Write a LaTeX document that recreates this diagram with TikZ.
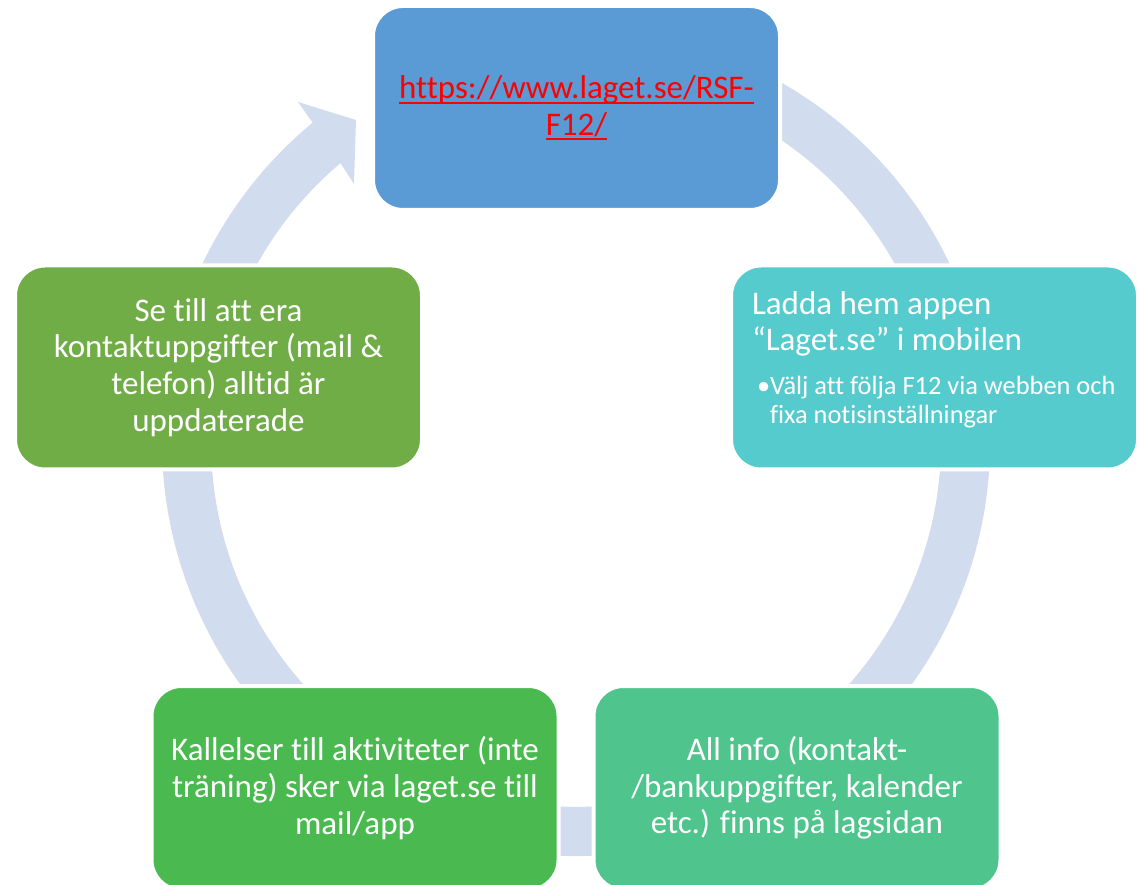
\documentclass[tikz,border=0pt]{standalone}
\usepackage{fontspec}
\setmainfont{Carlito}[Ligatures=NoCommon]
\usepackage{tikz}
\usepackage{xcolor}
\definecolor{SkyBlue}{HTML}{5B9BD5}
\definecolor{Aqua}{HTML}{55CBCD}
\definecolor{Leaf}{HTML}{70AD47}
\definecolor{Grass}{HTML}{4ABA50}
\definecolor{Mint}{HTML}{4FC58D}
\definecolor{Ring}{HTML}{D1DCEE}
\definecolor{LinkRed}{HTML}{FF0000}
\newsavebox{\linkbox}
\newcommand{\linkline}[1]{\sbox{\linkbox}{#1}\rlap{\rule[-5pt]{\wd\linkbox}{2pt}}\usebox{\linkbox}}

\begin{document}
\begin{tikzpicture}[x=1pt, y=1pt,
    box/.style={draw=white, line width=4pt, rounded corners=30pt, minimum width=407pt, minimum height=204pt,
        inner sep=0pt, text=white, align=center, font=\fontsize{33}{36.6}\selectfont}]
    \useasboundingbox (0,0) rectangle (1140,884);
    \clip (0,0) rectangle (1140,884);
    \fill[Ring] (782,801) arc[start angle=60.16, end angle=-230.5, radius=414]
        -- (298,782) -- (356,764) -- (354,700) -- (340.5,720.9)
        arc[start angle=-229.8, end angle=55.64, radius=365] -- cycle;
    \node[box, fill=SkyBlue, text=LinkRed] (site) at (576.5,776) {\linkline{https://www.laget.se/RSF-}\\\linkline{F12/}};
    \node[box, fill=Aqua, text width=365pt, align=flush left] (app) at (934.5,516.5) {Ladda hem appen\\“Laget.se” i mobilen\par\vspace{14pt}%
        {\fontsize{26.4}{29.5}\selectfont\makebox[18pt][l]{\hspace{5pt}•}Välj att följa F12 via webben och\\\hspace*{18pt}fixa notisinställningar\rule[-20pt]{0pt}{1pt}\par}};
    \node[box, fill=Leaf] (contact) at (218.5,516.5) {Se till att era\\kontaktuppgifter (mail \&\\telefon) alltid är\\uppdaterade};
    \node[box, fill=Grass] (call) at (355,96) {Kallelser till aktiviteter (inte\\träning) sker via laget.se till\\mail/app};
    \node[box, fill=Mint] (info) at (797,96) {All info (kontakt-\\/bankuppgifter, kalender\\etc.) finns på lagsidan};
\end{tikzpicture}
\end{document}
